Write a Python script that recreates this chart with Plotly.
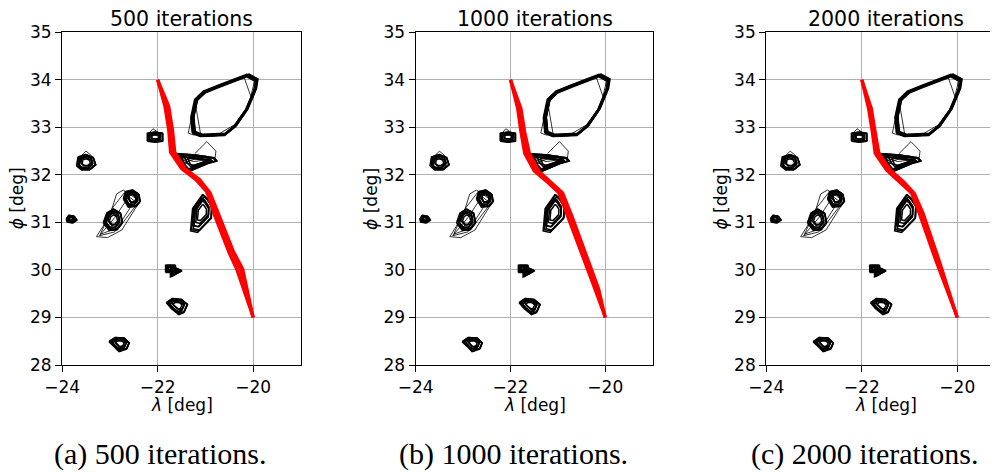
import plotly.graph_objects as go

# ---------------- data ----------------
panel_titles = ["500 iterations", "1000 iterations", "2000 iterations"]
captions = ["(a) 500 iterations.", "(b) 1000 iterations.", "(c) 2000 iterations."]
x_ticks = [-24, -22, -20]
y_ticks = [28, 29, 30, 31, 32, 33, 34, 35]

# obstacle outlines (deg)
big_x = [-21.25, -21.28, -21.2, -21.02, -20.7, -20.3, -20.12, -19.93, -19.96, -20.14, -20.38, -20.6, -21.1]
big_y = [32.88, 33.2, 33.58, 33.75, 33.88, 34.04, 34.1, 34.0, 33.8, 33.37, 33.02, 32.84, 32.82]
sq_x = [-22.2, -22.2, -22.05, -21.9, -21.9, -22.05]
sq_y = [32.72, 32.88, 32.9, 32.88, 32.72, 32.7]
hexl_x = [-23.68, -23.65, -23.5, -23.35, -23.3, -23.42, -23.58]
hexl_y = [32.2, 32.38, 32.43, 32.37, 32.22, 32.12, 32.12]
leaf_x = [-21.62, -21.2, -20.82, -20.77, -20.95, -21.2, -21.38, -21.5]
leaf_y = [32.45, 32.42, 32.36, 32.3, 32.25, 32.15, 32.07, 32.2]
elong_x = [-21.05, -21.25, -21.29, -21.15, -20.88, -20.87, -20.98]
elong_y = [31.58, 31.3, 30.85, 30.82, 31.1, 31.35, 31.52]
hexu_x = [-22.7, -22.66, -22.52, -22.4, -22.37, -22.45, -22.6]
hexu_y = [31.5, 31.65, 31.68, 31.6, 31.45, 31.35, 31.34]
hexd_x = [-23.12, -23.05, -22.92, -22.78, -22.74, -22.85, -23.0]
hexd_y = [31.0, 31.2, 31.28, 31.2, 31.0, 30.86, 30.85]
tiny_x = [-23.9, -23.85, -23.75, -23.7, -23.78, -23.88]
tiny_y = [31.08, 31.15, 31.13, 31.06, 31.0, 31.02]
flag_x = [-21.82, -21.82, -21.64, -21.64]
flag_y = [29.96, 30.1, 30.1, 29.96]
flagtri_x = [-21.72, -21.5, -21.72]
flagtri_y = [30.08, 29.99, 29.87]
penta_x = [-21.8, -21.68, -21.5, -21.38, -21.45, -21.55, -21.7]
penta_y = [29.32, 29.4, 29.38, 29.28, 29.12, 29.08, 29.2]
pentb_x = [-23.0, -22.88, -22.7, -22.6, -22.65, -22.8, -22.9]
pentb_y = [28.5, 28.58, 28.57, 28.47, 28.35, 28.3, 28.4]

# faint single outlines (open polylines)
ghost_lines = [
    ([-21.36, -21.22, -21.1, -21.25, -21.36], [32.88, 33.55, 32.85, 32.84, 32.88]),
    ([-20.72, -20.4, -20.18], [32.86, 33.05, 33.35]),
    ([-20.2, -20.05, -19.98], [34.08, 33.65, 33.95]),
    ([-22.2, -22.1, -21.95], [32.85, 32.97, 32.87]),
    ([-23.62, -23.5, -23.38], [32.38, 32.5, 32.4]),
    ([-21.22, -20.97, -20.78, -20.8], [32.45, 32.7, 32.5, 32.35]),
    ([-21.55, -21.1, -20.85, -21.3, -21.55], [32.38, 32.33, 32.3, 32.2, 32.38]),
    ([-21.5, -21.0, -20.9, -21.35, -21.5], [32.3, 32.4, 32.33, 32.12, 32.3]),
    ([-21.6, -21.25, -20.95, -21.25, -21.6], [32.4, 32.28, 32.32, 32.36, 32.4]),
    ([-21.45, -21.15, -20.88, -21.2, -21.45], [32.25, 32.36, 32.28, 32.2, 32.25]),
    ([-23.28, -23.0, -22.86, -22.72, -22.37, -22.55, -22.75, -23.05, -23.28],
     [30.7, 31.15, 31.6, 31.68, 31.45, 31.15, 30.84, 30.68, 30.7]),
    ([-23.2, -22.95, -22.7, -22.42, -22.8, -23.2], [30.75, 31.3, 31.62, 31.4, 30.9, 30.75]),
    ([-23.22, -22.9, -22.6, -22.55, -22.9, -23.22], [30.72, 31.1, 31.55, 31.35, 30.8, 30.72]),
    ([-21.0, -20.95, -20.88], [31.6, 31.62, 31.45]),
    ([-22.85, -22.78, -22.62], [28.45, 28.28, 28.38]),
]

big_obstacles = [(big_x, big_y)]
small_obstacles = [(sq_x, sq_y), (hexl_x, hexl_y), (leaf_x, leaf_y), (elong_x, elong_y),
                   (hexu_x, hexu_y), (hexd_x, hexd_y), (tiny_x, tiny_y), (flag_x, flag_y),
                   (flagtri_x, flagtri_y), (penta_x, penta_y), (pentb_x, pentb_y)]

# repeated draws of each obstacle (scale, dx, dy)
big_copies = [(1.0, 0.0, 0.0), (0.98, 0.02, 0.0), (1.01, -0.02, 0.01), (0.97, 0.0, -0.02),
              (1.0, 0.03, 0.02), (0.99, -0.01, -0.01), (0.96, 0.01, 0.01), (1.02, 0.0, 0.0)]
small_copies = [(1.0, 0.0, 0.0), (0.92, 0.02, -0.01), (0.8, -0.02, 0.01), (0.65, 0.01, 0.02),
                (1.05, -0.01, -0.01), (0.45, 0.0, 0.0), (0.72, -0.01, -0.02)]

# red trajectories per panel (several runs)
paths = [
    [  # 500 iterations
        ([-22.0, -21.85, -21.77, -21.73, -21.5, -21.2, -20.97, -20.81, -20.5, -20.34, -20.0],
         [34.0, 33.45, 32.95, 32.47, 32.13, 31.9, 31.64, 31.15, 30.35, 30.0, 29.0]),
        ([-22.0, -21.8, -21.72, -21.68, -21.46, -21.16, -20.93, -20.76, -20.45, -20.27, -20.0],
         [34.0, 33.45, 32.95, 32.47, 32.13, 31.9, 31.62, 31.15, 30.38, 30.01, 29.0]),
        ([-22.0, -21.77, -21.69, -21.64, -21.42, -21.12, -20.9, -20.72, -20.42, -20.22, -20.0],
         [34.0, 33.45, 32.95, 32.47, 32.13, 31.9, 31.62, 31.15, 30.4, 30.02, 29.0]),
    ],
    [  # 1000 iterations
        ([-22.0, -21.85, -21.78, -21.7, -21.5, -21.2, -20.98, -20.8, -20.5, -20.22, -20.0],
         [34.0, 33.4, 32.9, 32.45, 32.08, 31.83, 31.62, 31.15, 30.35, 29.6, 29.0]),
        ([-22.0, -21.81, -21.74, -21.65, -21.45, -21.16, -20.94, -20.75, -20.46, -20.18, -20.0],
         [34.0, 33.4, 32.9, 32.45, 32.08, 31.83, 31.62, 31.15, 30.35, 29.6, 29.0]),
        ([-22.0, -21.78, -21.7, -21.6, -21.4, -21.12, -20.9, -20.71, -20.42, -20.14, -20.0],
         [34.0, 33.4, 32.9, 32.45, 32.08, 31.83, 31.62, 31.15, 30.35, 29.6, 29.0]),
    ],
    [  # 2000 iterations
        ([-22.0, -21.86, -21.78, -21.72, -21.48, -21.2, -20.96, -20.8, -20.45, -20.0],
         [34.0, 33.4, 32.9, 32.45, 32.1, 31.85, 31.62, 31.2, 30.2, 29.0]),
        ([-22.0, -21.83, -21.75, -21.68, -21.44, -21.16, -20.93, -20.76, -20.42, -20.0],
         [34.0, 33.4, 32.9, 32.45, 32.1, 31.85, 31.62, 31.2, 30.2, 29.0]),
        ([-22.0, -21.8, -21.72, -21.64, -21.4, -21.12, -20.9, -20.72, -20.38, -20.0],
         [34.0, 33.4, 32.9, 32.45, 32.1, 31.85, 31.61, 31.2, 30.2, 29.0]),
    ],
]

# ---------------- geometry helpers ----------------
# page body has an 8px margin: work in window pixels and shift by it
OFF = 8.0
W, H = 990, 464
x_dom_px = [(62.1, 301.0), (415.7, 652.7), (766.3, 998.0)]
x_ranges = [[-24, -19], [-24, -19], [-24, -24 + (998.0 - 766.3) / 47.75]]
y_top_px, y_bot_px = 32.3, 365.0


def px_x(v):
    return (v - OFF) / W


def px_y(v):
    return 1 - (v - OFF) / H


def copies_of(polys, copies):
    xs, ys = [], []
    for px, py in polys:
        cx = sum(px) / len(px)
        cy = sum(py) / len(py)
        for s, dx, dy in copies:
            for a, b in zip(px + [px[0]], py + [py[0]]):
                xs.append(cx + s * (a - cx) + dx)
                ys.append(cy + s * (b - cy) + dy)
            xs.append(None)
            ys.append(None)
    return xs, ys


bx, by = copies_of(big_obstacles, big_copies)
sx, sy = copies_of(small_obstacles, small_copies)
gx, gy = [], []
for lx, ly in ghost_lines:
    gx += lx + [None]
    gy += ly + [None]

fig = go.Figure()
for i in range(3):
    xa = "x" if i == 0 else f"x{i+1}"
    ya = "y" if i == 0 else f"y{i+1}"
    fig.add_trace(go.Scatter(x=gx, y=gy, mode="lines", xaxis=xa, yaxis=ya,
                             line=dict(color="black", width=0.8), hoverinfo="skip", showlegend=False))
    fig.add_trace(go.Scatter(x=bx, y=by, mode="lines", xaxis=xa, yaxis=ya,
                             line=dict(color="black", width=1.5), hoverinfo="skip", showlegend=False))
    fig.add_trace(go.Scatter(x=sx, y=sy, mode="lines", xaxis=xa, yaxis=ya,
                             line=dict(color="black", width=1.5), hoverinfo="skip", showlegend=False))
    for px, py in paths[i]:
        fig.add_trace(go.Scatter(x=px, y=py, mode="lines", xaxis=xa, yaxis=ya,
                                 line=dict(color="#ff0000", width=3.2), hoverinfo="skip",
                                 showlegend=False))

tick_font = dict(family="DejaVu Sans", size=17, color="black")
layout = dict(width=W, height=H, autosize=False, margin=dict(l=0, r=0, t=0, b=0, pad=0),
              paper_bgcolor="white", plot_bgcolor="white", showlegend=False)
annotations = []
for i in range(3):
    l, r = x_dom_px[i]
    xkey = "xaxis" if i == 0 else f"xaxis{i+1}"
    ykey = "yaxis" if i == 0 else f"yaxis{i+1}"
    yname = "y" if i == 0 else f"y{i+1}"
    xname = "x" if i == 0 else f"x{i+1}"
    layout[xkey] = dict(domain=[px_x(l), min(1.0, px_x(r))], range=x_ranges[i], anchor=yname,
                        automargin=False,
                        tickvals=x_ticks, ticktext=["\u2212" + str(abs(t)) for t in x_ticks],
                        showgrid=True, gridcolor="#b0b0b0", gridwidth=1.3, zeroline=False,
                        showline=True, linecolor="black", linewidth=1.3, mirror=True,
                        ticks="outside", ticklen=6, tickwidth=1.3, tickcolor="black",
                        tickfont=tick_font, fixedrange=True)
    layout[ykey] = dict(domain=[px_y(y_bot_px), px_y(y_top_px)], range=[28, 35], anchor=xname,
                        automargin=False,
                        tickvals=y_ticks, ticktext=[str(t) for t in y_ticks],
                        showgrid=True, gridcolor="#b0b0b0", gridwidth=1.3, zeroline=False,
                        showline=True, linecolor="black", linewidth=1.3, mirror=(i < 2),
                        ticks="outside", ticklen=6, tickwidth=1.3, tickcolor="black",
                        tickfont=tick_font, fixedrange=True)
    cx = (l + (l + 47.8 * 5)) / 2
    annotations.append(dict(text=panel_titles[i], x=px_x(cx), y=px_y(19), xref="paper", yref="paper",
                            xanchor="center", yanchor="middle", showarrow=False,
                            font=dict(family="DejaVu Sans", size=20.5, color="black")))
    annotations.append(dict(text="<i>λ</i> [deg]", x=px_x(cx), y=px_y(405), xref="paper", yref="paper",
                            xanchor="center", yanchor="middle", showarrow=False,
                            font=dict(family="DejaVu Sans", size=17, color="black")))
    annotations.append(dict(text="<i>ϕ</i> [deg]", x=px_x(l - 45.5), y=px_y(198.7), xref="paper",
                            yref="paper", xanchor="center", yanchor="middle", showarrow=False,
                            textangle=-90,
                            font=dict(family="DejaVu Sans", size=17, color="black")))
    annotations.append(dict(text=captions[i], x=px_x(l + 98), y=px_y(454), xref="paper",
                            yref="paper", xanchor="center", yanchor="middle", showarrow=False,
                            font=dict(family="Liberation Serif", size=30, color="black")))
layout["annotations"] = annotations
fig.update_layout(**layout)
fig.write_html("out.html")
